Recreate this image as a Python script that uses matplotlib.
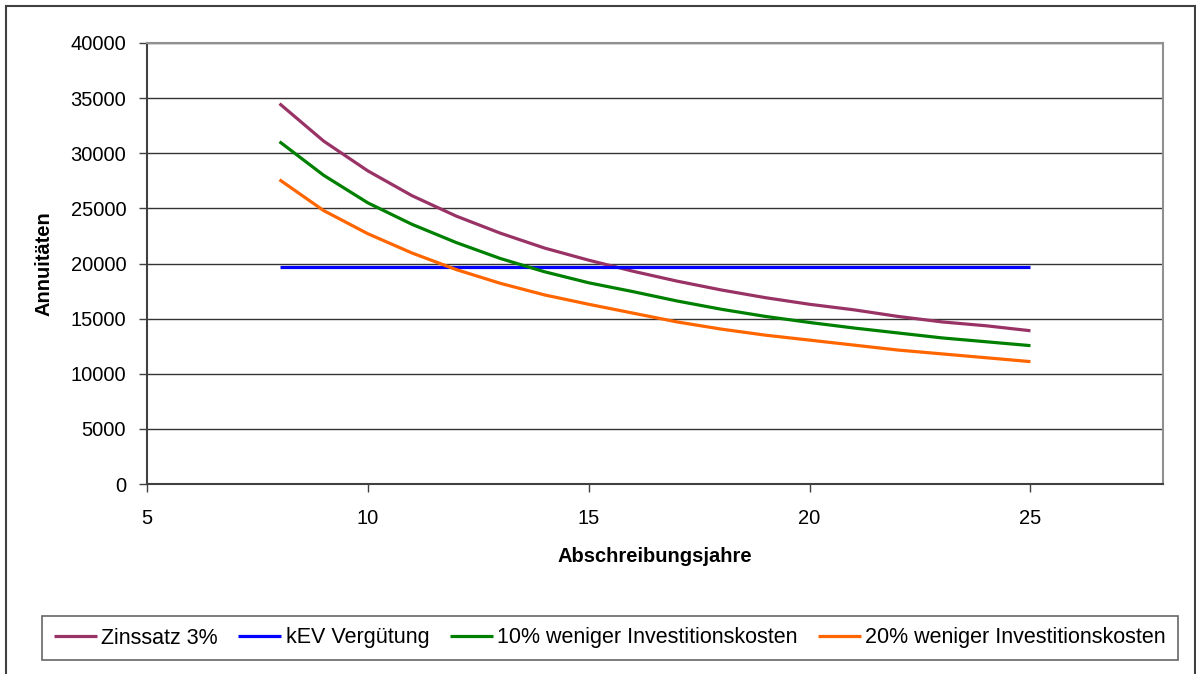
import matplotlib.pyplot as plt
from matplotlib.lines import Line2D

plt.rcParams['font.family'] = ['Liberation Sans', 'DejaVu Sans']

# Abschreibungsjahre
jahre = [8, 9, 10, 11, 12, 13, 14, 15, 16, 17, 18, 19, 20, 21, 22, 23, 24, 25]

zins3 = [34500, 31100, 28400, 26150, 24300, 22750, 21400, 20300, 19300, 18400,
         17600, 16900, 16300, 15800, 15200, 14700, 14350, 13900]
kev = [19650] * len(jahre)
minus10 = [31050, 28000, 25500, 23550, 21900, 20450, 19250, 18250, 17450, 16600,
           15850, 15200, 14650, 14150, 13700, 13250, 12900, 12550]
minus20 = [27600, 24800, 22700, 20950, 19450, 18200, 17150, 16300, 15500, 14700,
           14050, 13500, 13050, 12600, 12150, 11800, 11450, 11100]

labels = ['Zinssatz 3%', 'kEV Vergütung', '10% weniger Investitionskosten',
          '20% weniger Investitionskosten']
colors = ['#993366', '#0000FF', '#008000', '#FF6600']

W, H = 1196, 674
fig = plt.figure(figsize=(W / 100, H / 100), dpi=100)
ax = fig.add_axes([147 / W, 1 - 484 / H, (1163 - 147) / W, (484 - 43) / H])

for ys, lab, c in zip([zins3, kev, minus10, minus20], labels, colors):
    ax.plot(jahre, ys, color=c, lw=2.3, label=lab, solid_capstyle='butt')

ax.set_xlim(5, 28)
ax.set_ylim(0, 40000)
ax.set_xticks([5, 10, 15, 20, 25])
ax.set_yticks(range(0, 40001, 5000))
ax.yaxis.grid(True, color='#333333', lw=1.0)
ax.set_axisbelow(True)

ax.tick_params(direction='out', length=6, width=1, colors='#404040',
               labelcolor='black', labelsize=14.5)
ax.tick_params(axis='x', pad=12)
ax.tick_params(axis='y', pad=9)
for s in ['left', 'bottom']:
    ax.spines[s].set_color('#404040')
    ax.spines[s].set_linewidth(1.5)
for s in ['top', 'right']:
    ax.spines[s].set_color('#909090')
    ax.spines[s].set_linewidth(1.5)

ax.set_xlabel('Abschreibungsjahre', fontsize=14.5, fontweight='bold', labelpad=14)
ax.set_ylabel('Annuitäten', fontsize=14.5, fontweight='bold', labelpad=12)

leg = fig.legend(loc='center', bbox_to_anchor=(610 / W, 1 - 638 / H), ncol=4,
                 fontsize=15.5, frameon=True, fancybox=False, handlelength=2.0,
                 handletextpad=0.2, columnspacing=0.95, borderpad=0.55,
                 borderaxespad=0)
leg.get_frame().set_edgecolor('#404040')
leg.get_frame().set_linewidth(1.2)

# outer chart border (bottom edge lies outside the picture)
bc = '#404040'
x0, x1, y1 = 6 / W, 1195 / W, 1 - 6 / H
fig.add_artist(Line2D([x0, x0], [0, y1], color=bc, lw=1.5))
fig.add_artist(Line2D([x0, x1], [y1, y1], color=bc, lw=1.5))
fig.add_artist(Line2D([x1, x1], [0, y1], color=bc, lw=1.5))

fig.savefig('out.png', dpi=100)
